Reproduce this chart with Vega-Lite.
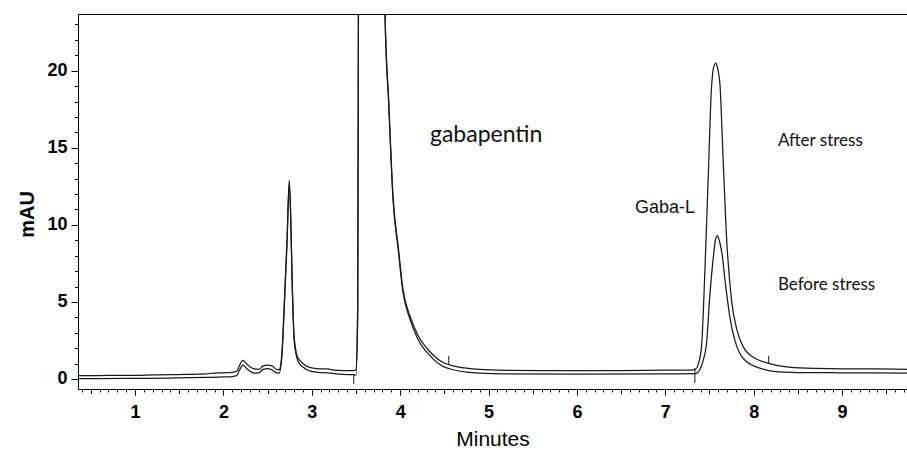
{
  "$schema": "https://vega.github.io/schema/vega-lite/v6.json",
  "width": 829,
  "height": 375,
  "autosize": {"type": "none"},
  "padding": {"left": 78, "top": 14, "right": 0, "bottom": 61},
  "background": "white",
  "config": {
    "view": {"stroke": "#000", "strokeWidth": 1},
    "axis": {"domainColor": "#000", "tickColor": "#000", "labelColor": "#000", "titleColor": "#000", "grid": false}
  },
  "datasets": {
    "traces": [
      {"series": "After stress", "t": 0.36, "mAU": 0.22},
      {"series": "After stress", "t": 0.6, "mAU": 0.22},
      {"series": "After stress", "t": 0.8, "mAU": 0.24},
      {"series": "After stress", "t": 1.0, "mAU": 0.24},
      {"series": "After stress", "t": 1.2, "mAU": 0.26},
      {"series": "After stress", "t": 1.4, "mAU": 0.28},
      {"series": "After stress", "t": 1.6, "mAU": 0.3},
      {"series": "After stress", "t": 1.8, "mAU": 0.33},
      {"series": "After stress", "t": 1.9, "mAU": 0.38},
      {"series": "After stress", "t": 2.0, "mAU": 0.4},
      {"series": "After stress", "t": 2.1, "mAU": 0.43},
      {"series": "After stress", "t": 2.15, "mAU": 0.5},
      {"series": "After stress", "t": 2.18, "mAU": 0.85},
      {"series": "After stress", "t": 2.22, "mAU": 1.2},
      {"series": "After stress", "t": 2.26, "mAU": 1.0},
      {"series": "After stress", "t": 2.3, "mAU": 0.8},
      {"series": "After stress", "t": 2.35, "mAU": 0.65},
      {"series": "After stress", "t": 2.4, "mAU": 0.62},
      {"series": "After stress", "t": 2.45, "mAU": 0.85},
      {"series": "After stress", "t": 2.5, "mAU": 0.9},
      {"series": "After stress", "t": 2.55, "mAU": 0.85},
      {"series": "After stress", "t": 2.6, "mAU": 0.62},
      {"series": "After stress", "t": 2.63, "mAU": 0.6},
      {"series": "After stress", "t": 2.66, "mAU": 1.5},
      {"series": "After stress", "t": 2.69, "mAU": 5.0},
      {"series": "After stress", "t": 2.72, "mAU": 9.0},
      {"series": "After stress", "t": 2.745, "mAU": 12.9},
      {"series": "After stress", "t": 2.76, "mAU": 11.0},
      {"series": "After stress", "t": 2.78, "mAU": 6.0},
      {"series": "After stress", "t": 2.8, "mAU": 2.8},
      {"series": "After stress", "t": 2.83, "mAU": 1.6},
      {"series": "After stress", "t": 2.86, "mAU": 1.25},
      {"series": "After stress", "t": 2.9, "mAU": 1.0},
      {"series": "After stress", "t": 2.95, "mAU": 0.8},
      {"series": "After stress", "t": 3.0, "mAU": 0.72},
      {"series": "After stress", "t": 3.1, "mAU": 0.65},
      {"series": "After stress", "t": 3.18, "mAU": 0.65},
      {"series": "After stress", "t": 3.25, "mAU": 0.58},
      {"series": "After stress", "t": 3.35, "mAU": 0.55},
      {"series": "After stress", "t": 3.47, "mAU": 0.55},
      {"series": "After stress", "t": 3.5, "mAU": 0.6},
      {"series": "After stress", "t": 3.52, "mAU": 5},
      {"series": "After stress", "t": 3.53, "mAU": 30},
      {"series": "After stress", "t": 3.6, "mAU": 200},
      {"series": "After stress", "t": 3.81, "mAU": 30},
      {"series": "After stress", "t": 3.83, "mAU": 23.5},
      {"series": "After stress", "t": 3.87, "mAU": 18.1},
      {"series": "After stress", "t": 3.92, "mAU": 11.8},
      {"series": "After stress", "t": 3.98, "mAU": 8.5},
      {"series": "After stress", "t": 4.03, "mAU": 5.9},
      {"series": "After stress", "t": 4.11, "mAU": 4.1},
      {"series": "After stress", "t": 4.2, "mAU": 2.85},
      {"series": "After stress", "t": 4.34, "mAU": 1.75},
      {"series": "After stress", "t": 4.49, "mAU": 1.05},
      {"series": "After stress", "t": 4.6, "mAU": 0.85},
      {"series": "After stress", "t": 4.75, "mAU": 0.7},
      {"series": "After stress", "t": 4.9, "mAU": 0.62},
      {"series": "After stress", "t": 5.2, "mAU": 0.56},
      {"series": "After stress", "t": 5.6, "mAU": 0.54},
      {"series": "After stress", "t": 6.0, "mAU": 0.54},
      {"series": "After stress", "t": 6.5, "mAU": 0.55},
      {"series": "After stress", "t": 7.0, "mAU": 0.57},
      {"series": "After stress", "t": 7.3, "mAU": 0.58},
      {"series": "After stress", "t": 7.34, "mAU": 0.62},
      {"series": "After stress", "t": 7.37, "mAU": 0.9},
      {"series": "After stress", "t": 7.41, "mAU": 2.1},
      {"series": "After stress", "t": 7.45, "mAU": 7.3},
      {"series": "After stress", "t": 7.49, "mAU": 13.8},
      {"series": "After stress", "t": 7.52, "mAU": 18.6},
      {"series": "After stress", "t": 7.55, "mAU": 20.3},
      {"series": "After stress", "t": 7.57, "mAU": 20.5},
      {"series": "After stress", "t": 7.59, "mAU": 20.2},
      {"series": "After stress", "t": 7.62, "mAU": 19.0},
      {"series": "After stress", "t": 7.65, "mAU": 14.9},
      {"series": "After stress", "t": 7.69, "mAU": 9.5},
      {"series": "After stress", "t": 7.75, "mAU": 5.1},
      {"series": "After stress", "t": 7.81, "mAU": 3.2},
      {"series": "After stress", "t": 7.88, "mAU": 2.1},
      {"series": "After stress", "t": 7.95, "mAU": 1.6},
      {"series": "After stress", "t": 8.03, "mAU": 1.3},
      {"series": "After stress", "t": 8.18, "mAU": 1.0},
      {"series": "After stress", "t": 8.35, "mAU": 0.8},
      {"series": "After stress", "t": 8.6, "mAU": 0.7},
      {"series": "After stress", "t": 9.0, "mAU": 0.66},
      {"series": "After stress", "t": 9.4, "mAU": 0.65},
      {"series": "After stress", "t": 9.74, "mAU": 0.63},
      {"series": "Before stress", "t": 0.36, "mAU": 0.02},
      {"series": "Before stress", "t": 0.6, "mAU": 0.02},
      {"series": "Before stress", "t": 1.0, "mAU": 0.04},
      {"series": "Before stress", "t": 1.4, "mAU": 0.06},
      {"series": "Before stress", "t": 1.8, "mAU": 0.1},
      {"series": "Before stress", "t": 2.0, "mAU": 0.13},
      {"series": "Before stress", "t": 2.1, "mAU": 0.16},
      {"series": "Before stress", "t": 2.15, "mAU": 0.22},
      {"series": "Before stress", "t": 2.18, "mAU": 0.55},
      {"series": "Before stress", "t": 2.22, "mAU": 0.9},
      {"series": "Before stress", "t": 2.26, "mAU": 0.7},
      {"series": "Before stress", "t": 2.3, "mAU": 0.5},
      {"series": "Before stress", "t": 2.35, "mAU": 0.38},
      {"series": "Before stress", "t": 2.4, "mAU": 0.4},
      {"series": "Before stress", "t": 2.45, "mAU": 0.62},
      {"series": "Before stress", "t": 2.5, "mAU": 0.68},
      {"series": "Before stress", "t": 2.55, "mAU": 0.6},
      {"series": "Before stress", "t": 2.6, "mAU": 0.4},
      {"series": "Before stress", "t": 2.63, "mAU": 0.38},
      {"series": "Before stress", "t": 2.66, "mAU": 1.3},
      {"series": "Before stress", "t": 2.69, "mAU": 4.8},
      {"series": "Before stress", "t": 2.72, "mAU": 8.8},
      {"series": "Before stress", "t": 2.745, "mAU": 12.6},
      {"series": "Before stress", "t": 2.76, "mAU": 10.8},
      {"series": "Before stress", "t": 2.78, "mAU": 5.8},
      {"series": "Before stress", "t": 2.8, "mAU": 2.6},
      {"series": "Before stress", "t": 2.83, "mAU": 1.4},
      {"series": "Before stress", "t": 2.86, "mAU": 1.0},
      {"series": "Before stress", "t": 2.9, "mAU": 0.78},
      {"series": "Before stress", "t": 2.95, "mAU": 0.58},
      {"series": "Before stress", "t": 3.0, "mAU": 0.5},
      {"series": "Before stress", "t": 3.1, "mAU": 0.42},
      {"series": "Before stress", "t": 3.18, "mAU": 0.4},
      {"series": "Before stress", "t": 3.25, "mAU": 0.35},
      {"series": "Before stress", "t": 3.35, "mAU": 0.3},
      {"series": "Before stress", "t": 3.47, "mAU": 0.28},
      {"series": "Before stress", "t": 3.5, "mAU": 0.25},
      {"series": "Before stress", "t": 3.52, "mAU": 4},
      {"series": "Before stress", "t": 3.53, "mAU": 30},
      {"series": "Before stress", "t": 3.6, "mAU": 200},
      {"series": "Before stress", "t": 3.81, "mAU": 30},
      {"series": "Before stress", "t": 3.83, "mAU": 23.3},
      {"series": "Before stress", "t": 3.87, "mAU": 17.9},
      {"series": "Before stress", "t": 3.92, "mAU": 11.6},
      {"series": "Before stress", "t": 3.98, "mAU": 8.3},
      {"series": "Before stress", "t": 4.03, "mAU": 5.7},
      {"series": "Before stress", "t": 4.11, "mAU": 3.9},
      {"series": "Before stress", "t": 4.2, "mAU": 2.6},
      {"series": "Before stress", "t": 4.34, "mAU": 1.5},
      {"series": "Before stress", "t": 4.49, "mAU": 0.8},
      {"series": "Before stress", "t": 4.6, "mAU": 0.6},
      {"series": "Before stress", "t": 4.75, "mAU": 0.45},
      {"series": "Before stress", "t": 4.9, "mAU": 0.38},
      {"series": "Before stress", "t": 5.2, "mAU": 0.33},
      {"series": "Before stress", "t": 6.0, "mAU": 0.32},
      {"series": "Before stress", "t": 7.0, "mAU": 0.33},
      {"series": "Before stress", "t": 7.33, "mAU": 0.34},
      {"series": "Before stress", "t": 7.35, "mAU": 0.36},
      {"series": "Before stress", "t": 7.39, "mAU": 0.6},
      {"series": "Before stress", "t": 7.43, "mAU": 1.23},
      {"series": "Before stress", "t": 7.47, "mAU": 2.5},
      {"series": "Before stress", "t": 7.5, "mAU": 5.1},
      {"series": "Before stress", "t": 7.54, "mAU": 7.7},
      {"series": "Before stress", "t": 7.57, "mAU": 9.1},
      {"series": "Before stress", "t": 7.59, "mAU": 9.3},
      {"series": "Before stress", "t": 7.61, "mAU": 9.0},
      {"series": "Before stress", "t": 7.64, "mAU": 8.2},
      {"series": "Before stress", "t": 7.68, "mAU": 6.2},
      {"series": "Before stress", "t": 7.73, "mAU": 4.05},
      {"series": "Before stress", "t": 7.81, "mAU": 2.1},
      {"series": "Before stress", "t": 7.86, "mAU": 1.5},
      {"series": "Before stress", "t": 7.92, "mAU": 1.12},
      {"series": "Before stress", "t": 8.0, "mAU": 0.85},
      {"series": "Before stress", "t": 8.07, "mAU": 0.7},
      {"series": "Before stress", "t": 8.22, "mAU": 0.5},
      {"series": "Before stress", "t": 8.5, "mAU": 0.42},
      {"series": "Before stress", "t": 9.0, "mAU": 0.4},
      {"series": "Before stress", "t": 9.74, "mAU": 0.38}
    ],
    "markers": [
      {"t": 3.475, "y1": -0.32, "y2": 0.28},
      {"t": 4.55, "y1": 0.95, "y2": 1.5},
      {"t": 7.335, "y1": -0.26, "y2": 0.7},
      {"t": 8.17, "y1": 1.0, "y2": 1.5}
    ],
    "labels": [
      {"label": "gabapentin", "t": 4.337, "mAU": 15.36},
      {"label": "Gaba-L", "t": 6.656, "mAU": 10.75},
      {"label": "After stress", "t": 8.274, "mAU": 15.13},
      {"label": "Before stress", "t": 8.274, "mAU": 5.78}
    ]
  },
  "layer": [
    {
      "data": {"name": "traces"},
      "mark": {"type": "line", "clip": true, "color": "#1a1a1a", "strokeWidth": 1.25, "interpolate": "monotone"},
      "encoding": {
        "x": {
          "field": "t", "type": "quantitative",
          "scale": {"domain": [0.355, 9.735], "nice": false, "zero": false},
          "axis": {
            "title": "Minutes",
            "titleFont": "Liberation Sans", "titleFontSize": 21, "titleFontWeight": "normal",
            "titleY": 50, "titleBaseline": "middle",
            "tickCount": 500,
            "values": [0.4,0.5,0.6,0.7,0.8,0.9,1,1.1,1.2,1.3,1.4,1.5,1.6,1.7,1.8,1.9,2,2.1,2.2,2.3,2.4,2.5,2.6,2.7,2.8,2.9,3,3.1,3.2,3.3,3.4,3.5,3.6,3.7,3.8,3.9,4,4.1,4.2,4.3,4.4,4.5,4.6,4.7,4.8,4.9,5,5.1,5.2,5.3,5.4,5.5,5.6,5.7,5.8,5.9,6,6.1,6.2,6.3,6.4,6.5,6.6,6.7,6.8,6.9,7,7.1,7.2,7.3,7.4,7.5,7.6,7.7,7.8,7.9,8,8.1,8.2,8.3,8.4,8.5,8.6,8.7,8.8,8.9,9,9.1,9.2,9.3,9.4,9.5,9.6,9.7],
            "labelExpr": "abs(datum.value - round(datum.value)) < 1e-6 ? format(datum.value, 'd') : ''",
            "labelOverlap": false, "labelFlush": false,
            "labelFont": "Liberation Sans", "labelFontSize": 18, "labelFontWeight": "bold",
            "labelPadding": 8,
            "tickSize": {"condition": [
              {"test": "abs(datum.value - round(datum.value)) < 1e-6", "value": 6},
              {"test": "abs(datum.value * 2 - round(datum.value * 2)) < 1e-6", "value": 4.5}
            ], "value": 3}
          }
        },
        "y": {
          "field": "mAU", "type": "quantitative",
          "scale": {"domain": [-0.65, 23.68], "nice": false, "zero": false},
          "axis": {
            "title": "mAU",
            "titleFont": "Liberation Sans", "titleFontSize": 20, "titleFontWeight": "bold",
            "titleX": -51, "titleY": 200, "titleBaseline": "middle", "titleAlign": "center", "titleAngle": -90,
            "tickCount": 100,
            "values": [0,1,2,3,4,5,6,7,8,9,10,11,12,13,14,15,16,17,18,19,20,21,22,23],
            "labelExpr": "datum.value % 5 === 0 ? format(datum.value, 'd') : ''",
            "labelOverlap": false, "labelFlush": false,
            "labelFont": "Liberation Sans", "labelFontSize": 18, "labelFontWeight": "bold",
            "labelPadding": 4,
            "tickSize": {"condition": {"test": "datum.value % 5 === 0", "value": 7}, "value": 3.5}
          }
        },
        "detail": {"field": "series", "type": "nominal"}
      }
    },
    {
      "data": {"name": "markers"},
      "mark": {"type": "rule", "color": "#1a1a1a", "strokeWidth": 1},
      "encoding": {
        "x": {"field": "t", "type": "quantitative"},
        "y": {"field": "y1", "type": "quantitative"},
        "y2": {"field": "y2"}
      }
    },
    {
      "data": {"name": "labels"},
      "transform": [{"filter": "datum.label === 'gabapentin'"}],
      "mark": {"type": "text", "font": "Lato", "fontSize": 23, "align": "left", "baseline": "alphabetic", "color": "#111"},
      "encoding": {
        "x": {"field": "t", "type": "quantitative"},
        "y": {"field": "mAU", "type": "quantitative"},
        "text": {"field": "label"}
      }
    },
    {
      "data": {"name": "labels"},
      "transform": [{"filter": "datum.label === 'Gaba-L'"}],
      "mark": {"type": "text", "font": "Liberation Sans", "fontSize": 18, "align": "left", "baseline": "alphabetic", "color": "#111"},
      "encoding": {
        "x": {"field": "t", "type": "quantitative"},
        "y": {"field": "mAU", "type": "quantitative"},
        "text": {"field": "label"}
      }
    },
    {
      "data": {"name": "labels"},
      "transform": [{"filter": "datum.label === 'After stress' || datum.label === 'Before stress'"}],
      "mark": {"type": "text", "font": "Lato", "fontSize": 17, "align": "left", "baseline": "alphabetic", "color": "#111"},
      "encoding": {
        "x": {"field": "t", "type": "quantitative"},
        "y": {"field": "mAU", "type": "quantitative"},
        "text": {"field": "label"}
      }
    }
  ]
}
